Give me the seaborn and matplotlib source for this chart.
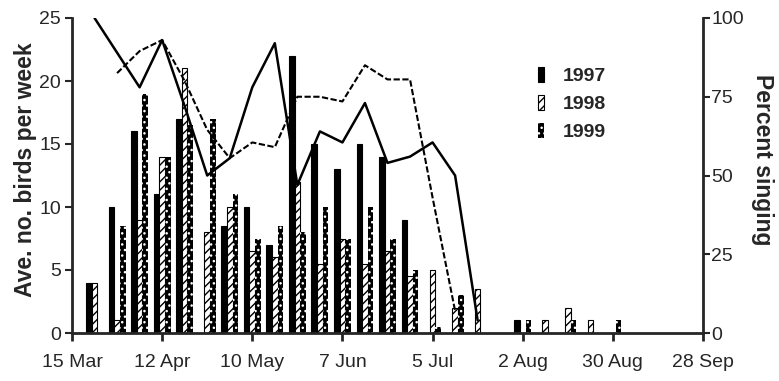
import matplotlib
matplotlib.use('Agg')
import matplotlib.pyplot as plt
import matplotlib.patches as mpatches
import seaborn as sns
import pandas as pd

# ------------------------------------------------------------
# DATA (weeks counted from 15 Mar)
# ------------------------------------------------------------
weeks = list(range(1, 25))
birds_1997 = [4, 10, 16, 11, 17, 0, 8.5, 10, 7, 22, 15, 13, 15, 14, 9, 0, 0, 0, 0, 1, 0, 0, 0, 0]
birds_1998 = [4, 1, 9, 14, 21, 8, 10, 6.5, 6, 12, 5.5, 7.5, 5.5, 6.5, 4.5, 5, 2, 3.5, 0, 0, 1, 2, 1, 0]
birds_1999 = [0, 8.5, 19, 14, 16.5, 17, 11, 7.5, 8.5, 8, 10, 7.5, 10, 7.5, 5, 0.5, 3, 0, 0, 1, 0, 1, 0, 1]

years = ['1997', '1998', '1999']

sing_weeks_solid = list(range(1, 19))
singing_solid = [100, 89, 78, 93, 72, 50, 55.5, 78, 92, 47, 64, 60.5, 73, 54, 56, 60.5, 50, 4]
sing_weeks_dashed = list(range(2, 18))
singing_dashed = [82.5, 89.5, 93, 80, 64.5, 55.5, 60.5, 59, 75, 75, 73.5, 85, 80.5, 80.5, 43, 7]

tick_weeks = [0, 4, 8, 12, 16, 20, 24, 28]
tick_labels = ['15 Mar', '12 Apr', '10 May', '7 Jun', '5 Jul', '2 Aug', '30 Aug', '28 Sep']

# ------------------------------------------------------------
# STYLE
# ------------------------------------------------------------
sns.set_style('ticks')
plt.rcParams['font.family'] = ['Liberation Sans', 'DejaVu Sans']
plt.rcParams['hatch.linewidth'] = 1.0

STYLES = {
    '1997': dict(facecolor='black', edgecolor='black', hatch=None, linewidth=0.8),
    '1998': dict(facecolor='white', edgecolor='black', hatch='////', linewidth=0.8),
    '1999': dict(facecolor='black', edgecolor='white', hatch='...', linewidth=0),
}

df = pd.DataFrame({
    'week': weeks * 3,
    'birds': birds_1997 + birds_1998 + birds_1999,
    'year': [y for y in years for _ in weeks],
})
df = df[df['birds'] > 0]

fig = plt.figure(figsize=(7.79, 3.81), dpi=100)
ax = fig.add_axes([72 / 779, 48 / 381, 631 / 779, 315 / 381])

sns.barplot(data=df, x='week', y='birds', hue='year', hue_order=years,
            native_scale=True, width=0.75, errorbar=None, legend=False,
            palette=['black', 'white', 'black'], ax=ax)

for year, container in zip(years, ax.containers):
    st = STYLES[year]
    for bar in container:
        bar.set_facecolor(st['facecolor'])
        bar.set_edgecolor(st['edgecolor'])
        bar.set_linewidth(st['linewidth'])
        if st['hatch']:
            bar.set_hatch(st['hatch'])

ax.set_xlim(0, 28)
ax.set_ylim(0, 25)
ax.set_xticks(tick_weeks)
ax.set_xticklabels(tick_labels, fontsize=14)
ax.set_yticks([0, 5, 10, 15, 20, 25])
ax.tick_params(axis='y', labelsize=14, direction='out', length=5, width=1.5, pad=3)
ax.tick_params(axis='x', direction='out', length=6, width=2, pad=9)
ax.set_xlabel('')
ax.set_ylabel('Ave. no. birds per week', fontsize=16.5, fontweight='bold')
ax.yaxis.set_label_coords(-0.056, 0.52)
for s in ['top', 'right']:
    ax.spines[s].set_visible(False)
for s in ['left', 'bottom']:
    ax.spines[s].set_linewidth(2)

# percent singing on right axis
ax2 = ax.twinx()
sns.lineplot(x=sing_weeks_solid, y=singing_solid, ax=ax2, color='black', linewidth=1.8)
sns.lineplot(x=sing_weeks_dashed, y=singing_dashed, ax=ax2, color='black', linewidth=1.5)
ax2.lines[1].set_dashes((3, 1.2))
ax2.set_xlim(0, 28)
ax2.set_ylim(0, 100)
ax2.set_yticks([0, 25, 50, 75, 100])
ax2.tick_params(axis='y', labelsize=14, direction='out', length=5, width=1.5, pad=1)
ax2.set_ylabel('Percent singing', fontsize=16.5, fontweight='bold', rotation=270)
ax2.yaxis.set_label_coords(1.112, 0.55)
for s in ['top', 'left', 'bottom']:
    ax2.spines[s].set_visible(False)
ax2.spines['right'].set_linewidth(2)

handles = [mpatches.Patch(facecolor=STYLES[y]['facecolor'], edgecolor=STYLES[y]['edgecolor'],
                          hatch=STYLES[y]['hatch'], linewidth=STYLES[y]['linewidth'], label=y)
           for y in years]
ax2.legend(handles=handles, loc='upper left', bbox_to_anchor=(0.723, 0.875),
           frameon=False, handlelength=0.3, handleheight=0.8, handletextpad=1.0,
           labelspacing=0.5, borderpad=0, prop={'weight': 'bold', 'size': 14})

fig.savefig('out.png', dpi=100)
